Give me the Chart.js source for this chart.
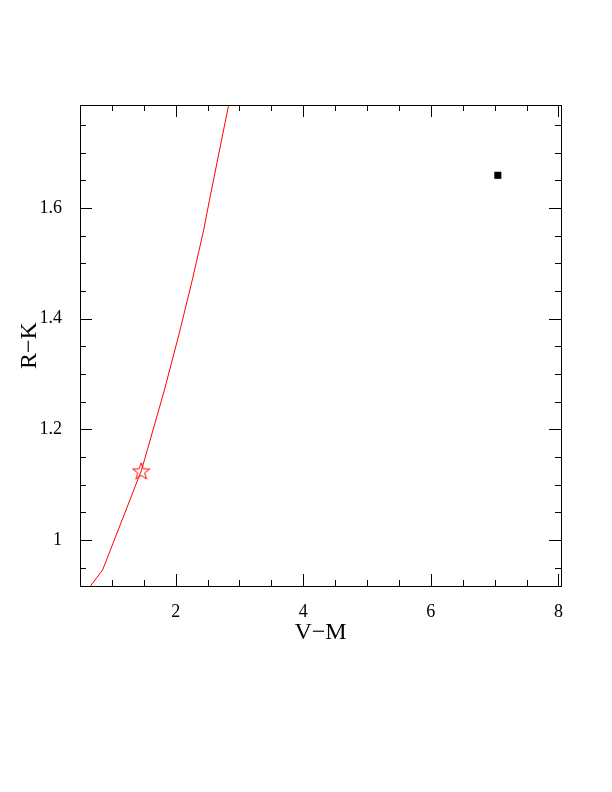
<!DOCTYPE html>
<html>
<head>
<meta charset="utf-8">
<script src="https://cdn.jsdelivr.net/npm/chart.js@4"></script>
<style>
  html, body { margin: 0; padding: 0; background: #fff; }
  #wrap { width: 612px; height: 792px; }
</style>
</head>
<body>
<div id="wrap"><canvas id="c" width="612" height="792"></canvas></div>
<script>
// red model curve (V-M vs R-K)
const curveX = [0.55, 0.855, 1.46, 1.556, 1.823, 2.05, 2.242, 2.439, 2.529, 2.83, 2.94];
const curveY = [0.90, 0.946, 1.125, 1.163, 1.271, 1.371, 1.461, 1.560, 1.614, 1.786, 1.85];
// open star on the curve
const starX = [1.46];
const starY = [1.125];
// filled black square
const squareX = [7.05];
const squareY = [1.659];

const xRange = [0.5, 8.04];
const yRange = [0.917, 1.786];
const xMajor = [2, 4, 6, 8];
const yMajor = [1, 1.2, 1.4, 1.6];
const xMinorStep = 0.5;
const yMinorStep = 0.05;

const xTitle = 'V\u2212M';
const yTitle = 'R\u2212K';

const pts = (xs, ys) => xs.map((x, i) => ({ x, y: ys[i] }));

// open 5-point star used as point style
function starImage(R, color) {
  const r = R * 0.4;
  const s = Math.ceil(R * 2 + 4);
  const cv = document.createElement('canvas');
  cv.width = s; cv.height = s;
  const g = cv.getContext('2d');
  g.strokeStyle = color;
  g.lineWidth = 1;
  g.beginPath();
  for (let i = 0; i < 10; i++) {
    const rad = i % 2 ? r : R;
    const a = -Math.PI / 2 + i * Math.PI / 5;
    const px = s / 2 + rad * Math.cos(a);
    const py = s / 2 + R * 0.1 + rad * Math.sin(a);
    i ? g.lineTo(px, py) : g.moveTo(px, py);
  }
  g.closePath();
  g.stroke();
  return cv;
}

const serif = '"Liberation Serif", "DejaVu Serif", serif';

// frame, inward ticks on all four sides, axis titles
const frame = {
  id: 'frame',
  afterDraw(chart) {
    const { ctx, chartArea: a, scales: { x, y } } = chart;
    ctx.save();
    ctx.strokeStyle = '#000';
    ctx.lineWidth = 1;
    ctx.strokeRect(a.left + 0.5, a.top + 0.5, a.right - a.left, a.bottom - a.top);
    ctx.beginPath();
    const xt = (v, len) => {
      const p = Math.round(x.getPixelForValue(v)) + 0.5;
      ctx.moveTo(p, a.bottom); ctx.lineTo(p, a.bottom - len);
      ctx.moveTo(p, a.top); ctx.lineTo(p, a.top + len);
    };
    const yt = (v, len) => {
      const p = Math.round(y.getPixelForValue(v)) + 0.5;
      ctx.moveTo(a.left, p); ctx.lineTo(a.left + len, p);
      ctx.moveTo(a.right, p); ctx.lineTo(a.right - len, p);
    };
    for (let v = Math.ceil(xRange[0] / xMinorStep) * xMinorStep; v <= xRange[1] + 1e-9; v += xMinorStep) {
      const major = xMajor.some(m => Math.abs(m - v) < 1e-6);
      if (v > xRange[0] + 1e-6) xt(v, major ? 12 : 6);
    }
    for (let k = Math.ceil(yRange[0] / yMinorStep); k * yMinorStep <= yRange[1] + 1e-9; k++) {
      const v = k * yMinorStep;
      const major = yMajor.some(m => Math.abs(m - v) < 1e-6);
      yt(v, major ? 12 : 6);
    }
    ctx.stroke();

    ctx.fillStyle = '#000';
    ctx.font = '24px ' + serif;
    ctx.textAlign = 'center';
    ctx.textBaseline = 'middle';
    ctx.fillText(xTitle, (a.left + a.right) / 2, a.bottom + 47);
    ctx.translate(30, (a.top + a.bottom) / 2);
    ctx.rotate(-Math.PI / 2);
    ctx.fillText(yTitle, 0, 0);
    ctx.restore();
  }
};

new Chart(document.getElementById('c'), {
  type: 'scatter',
  data: {
    datasets: [
      {
        type: 'line',
        data: pts(curveX, curveY),
        borderColor: '#ff0000',
        borderWidth: 1,
        pointRadius: 0,
        tension: 0,
        fill: false
      },
      {
        data: pts(starX, starY),
        pointStyle: starImage(9, '#ff0000'),
        pointRadius: 9
      },
      {
        data: pts(squareX, squareY),
        pointStyle: 'rect',
        pointRadius: 5,
        backgroundColor: '#000',
        borderColor: '#000',
        borderWidth: 0
      }
    ]
  },
  options: {
    responsive: false,
    animation: false,
    events: [],
    layout: { padding: { left: 0, top: 105, right: 51, bottom: 166 } },
    plugins: { legend: { display: false }, tooltip: { enabled: false } },
    scales: {
      x: {
        type: 'linear',
        min: xRange[0],
        max: xRange[1],
        grid: { display: false },
        border: { display: false },
        afterBuildTicks: s => { s.ticks = xMajor.map(v => ({ value: v })); },
        afterFit: s => { s.height = 40; },
        ticks: {
          padding: 7,
          color: '#000',
          font: { family: serif, size: 18 },
          callback: v => String(v)
        }
      },
      y: {
        type: 'linear',
        min: yRange[0],
        max: yRange[1],
        grid: { display: false },
        border: { display: false },
        afterBuildTicks: s => { s.ticks = yMajor.map(v => ({ value: v })); },
        afterFit: s => { s.width = 80; },
        ticks: {
          padding: 10,
          color: '#000',
          font: { family: serif, size: 18 },
          callback: v => (v === 1 ? '1' : v.toFixed(1))
        }
      }
    }
  },
  plugins: [frame]
});
</script>
</body>
</html>
